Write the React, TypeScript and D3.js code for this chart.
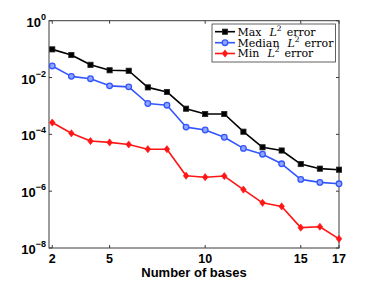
import React, {useEffect} from "react";
import * as d3 from "d3";

// number of bases on the x axis
const bases = [2, 3, 4, 5, 6, 7, 8, 9, 10, 11, 12, 13, 14, 15, 16, 17];

const maxErr = [0.098, 0.062, 0.028, 0.018, 0.0173, 0.0045, 0.0031, 0.0008, 0.00052, 0.00052, 0.000124, 3.5e-5, 2.7e-5, 9e-6, 6.2e-6, 5.7e-6];
const medianErr = [0.0254, 0.011, 0.0091, 0.0051, 0.0047, 0.00122, 0.00106, 0.00018, 0.000142, 7.9e-5, 3.2e-5, 2.0e-5, 9.2e-6, 2.6e-6, 2.04e-6, 1.82e-6];
const minErr = [2.6e-4, 1.09e-4, 5.8e-5, 5.2e-5, 4.4e-5, 3.0e-5, 3.0e-5, 3.5e-6, 3.1e-6, 3.4e-6, 1.14e-6, 3.9e-7, 2.9e-7, 5.2e-8, 5.6e-8, 2.1e-8];

const xTicks = [2, 5, 10, 15, 17];
const yExps = [0, -2, -4, -6, -8];

const series = [
  {name: "Max", values: maxErr, color: "#000000", marker: "square"},
  {name: "Median", values: medianErr, color: "#3355ff", marker: "circle"},
  {name: "Min", values: minErr, color: "#ff1515", marker: "diamond"},
];

const W = 374;
const H = 281;
const margin = {top: 20.7, right: 35, bottom: 33, left: 49};

function Marker({kind, x, y, color}) {
  if (kind === "square")
    return <rect x={x - 2.6} y={y - 2.6} width={5.2} height={5.2} fill={color} stroke="#222" strokeWidth={0.8} />;
  if (kind === "circle")
    return <circle cx={x} cy={y} r={2.8} fill="#8fa5ff" stroke={color} strokeWidth={1.3} />;
  return (
    <path
      d={`M${x},${y - 3.6}L${x + 2.8},${y}L${x},${y + 3.6}L${x - 2.8},${y}Z`}
      fill={color}
      stroke={color}
      strokeWidth={0.6}
    />
  );
}

export default function App() {
  useEffect(() => {
    document.body.style.margin = "0";
  }, []);

  const x = d3.scaleLinear().domain([1.83, 17]).range([margin.left, W - margin.right]);
  const y = d3.scaleLog().domain([1e-8, 1]).range([H - margin.bottom, margin.top]);
  const line = d3
    .line<number>()
    .x((_, i) => x(bases[i]))
    .y((d) => y(d));

  const x0 = margin.left;
  const x1 = W - margin.right;
  const y0 = margin.top;
  const y1 = H - margin.bottom;
  const axisColor = "#3a3a3a";
  const sans = "Liberation Sans, Arial, sans-serif";
  const serif = "DejaVu Serif, serif";

  const legX = 212;
  const legY = 24;
  const legRows = [31.7, 42.7, 53.5];

  return (
    <svg width={W} height={H} style={{display: "block", background: "#fff"}}>
      {/* frame */}
      <rect x={x0} y={y0} width={x1 - x0} height={y1 - y0} fill="none" stroke={axisColor} strokeWidth={1} />

      {/* x ticks */}
      {xTicks.map((t) => (
        <g key={"xt" + t}>
          <line x1={x(t)} x2={x(t)} y1={y1} y2={y1 - 3} stroke={axisColor} />
          <line x1={x(t)} x2={x(t)} y1={y0} y2={y0 + 3} stroke={axisColor} />
          <text x={x(t)} y={263} textAnchor="middle" fontFamily={sans} fontWeight="bold" fontSize={12.5} fill="#000">
            {t}
          </text>
        </g>
      ))}

      {/* y ticks */}
      {yExps.map((e) => {
        const yy = y(Math.pow(10, e));
        return (
          <g key={"yt" + e}>
            <line x1={x0} x2={x0 + 3} y1={yy} y2={yy} stroke={axisColor} />
            <line x1={x1} x2={x1 - 3} y1={yy} y2={yy} stroke={axisColor} />
            <text x={46} y={yy + 6} textAnchor="end" fontFamily={sans} fontWeight="bold" fontSize={13} fill="#000">
              10
              <tspan dy={-7} fontSize={9}>
                {e === 0 ? "0" : "\u2212" + -e}
              </tspan>
            </text>
          </g>
        );
      })}

      <text x={(x0 + x1) / 2} y={276.5} textAnchor="middle" fontFamily={sans} fontWeight="bold" fontSize={13} fill="#000">
        Number of bases
      </text>

      {/* series */}
      {series.map((s) => (
        <g key={s.name}>
          <path d={line(s.values)} fill="none" stroke={s.color} strokeWidth={1.6} strokeLinejoin="round" />
          {s.values.map((v, i) => (
            <Marker key={i} kind={s.marker} x={x(bases[i])} y={y(v)} color={s.color} />
          ))}
        </g>
      ))}

      {/* legend */}
      <rect x={legX} y={legY} width={123.5} height={38} fill="#fff" stroke={axisColor} strokeWidth={0.8} />
      {series.map((s, i) => (
        <g key={"leg" + s.name}>
          <line x1={215} x2={235} y1={legRows[i]} y2={legRows[i]} stroke={s.color} strokeWidth={1.6} />
          <Marker kind={s.marker} x={225} y={legRows[i]} color={s.color} />
          <text x={237.5} y={legRows[i] + 3.8} fontFamily={serif} fontSize={11} fill="#000">
            {s.name}
            <tspan dx={8} fontStyle="italic">L</tspan>
            <tspan dy={-5} fontSize={7.5}>2</tspan>
            <tspan dy={5} dx={5}>error</tspan>
          </text>
        </g>
      ))}
    </svg>
  );
}
